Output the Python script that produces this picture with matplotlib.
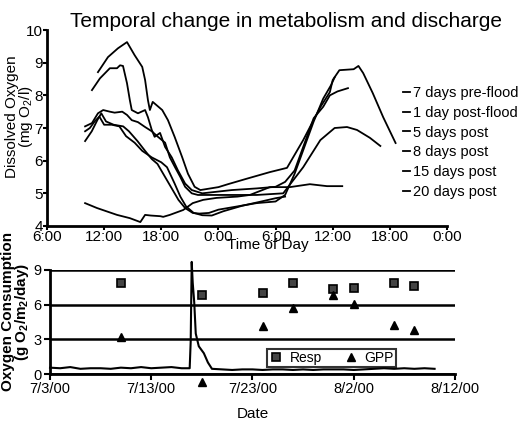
import numpy as np
import pandas as pd
import matplotlib
matplotlib.use('Agg')
import matplotlib.pyplot as plt

plt.rcParams['font.family'] = ['Liberation Sans', 'DejaVu Sans']
plt.rcParams['mathtext.fontset'] = 'custom'
plt.rcParams['mathtext.rm'] = 'Liberation Sans'
plt.rcParams['mathtext.bf'] = 'Liberation Sans:bold'

# ---- dados: oxigenio dissolvido (hora desde 0:00 do dia 1, mg/l)
hA = [11.35, 12.4, 13.45, 14.4, 15.2, 16.0, 16.3, 16.6, 16.8, 17.1, 18.1, 18.7, 19.4,
      20.2, 20.8, 21.5, 22.1, 24.0, 25.0, 27.0, 29.4, 31.2, 32.9, 34.7, 35.7, 36.0,
      36.7, 38.2, 38.7, 39.2, 40.2, 41.3, 42.6]
vA = [8.71, 9.17, 9.44, 9.63, 9.23, 8.87, 8.47, 7.85, 7.55, 7.8, 7.55, 7.24, 6.73,
      6.1, 5.6, 5.2, 5.1, 5.19, 5.28, 5.45, 5.65, 5.78, 6.63, 7.64, 8.1, 8.47,
      8.77, 8.8, 8.9, 8.68, 8.07, 7.33, 6.54]

hB = [10.72, 11.56, 12.6, 13.35, 13.67, 13.98, 14.4, 14.7, 14.9, 15.55, 16.3, 16.6,
      17.0, 17.3, 17.87, 18.4, 19.1, 19.75, 20.5, 21.2, 22.3, 25.4, 28.0, 30.0, 31.0,
      32.0, 33.0, 34.0, 35.0, 35.7, 36.5, 37.6]
vB = [8.16, 8.52, 8.83, 8.83, 8.92, 8.9, 8.37, 7.85, 7.55, 7.45, 7.55, 7.33,
      6.94, 6.73, 6.85, 6.42, 6.1, 5.7, 5.3, 5.1, 5.0, 5.1, 5.15, 5.2, 5.35,
      5.7, 6.5, 7.3, 7.65, 8.0, 8.12, 8.22]

hC = [10.0, 10.72, 11.35, 11.9, 12.6, 13.1, 13.9, 14.4, 14.9, 15.55, 16.3, 17.0,
      17.65, 18.4, 18.9, 19.44, 20.0, 20.5, 21.2, 21.85, 25.0, 28.0, 30.8, 32.9,
      34.7, 36.2, 37.5, 38.55, 39.9, 41.0]
vC = [7.05, 7.15, 7.45, 7.55, 7.5, 7.47, 7.5, 7.4, 7.24, 7.18, 7.03, 6.9,
      6.73, 6.55, 6.1, 5.8, 5.5, 5.2, 5.0, 4.95, 4.95, 4.95, 5.0, 5.8,
      6.63, 7.0, 7.03, 6.94, 6.7, 6.45]

hD = [10.0, 10.7, 11.3, 11.7, 12.2, 13.0, 14.0, 14.6, 15.5, 16.3, 17.0, 17.6, 18.4,
      19.2, 19.8, 20.5, 21.3, 22.0, 23.0, 24.0, 26.0, 28.0, 30.0, 31.0, 32.0, 33.0,
      34.0, 35.0, 35.8, 36.2]
vD = [6.6, 6.9, 7.25, 7.45, 7.2, 7.1, 7.05, 6.9, 6.6, 6.3, 6.05, 5.9, 5.5,
      5.1, 4.8, 4.55, 4.4, 4.38, 4.4, 4.5, 4.6, 4.7, 4.75, 4.95, 5.6, 6.4,
      7.2, 7.9, 8.3, 8.55]

hF = [10.0, 10.5, 11.0, 11.5, 12.0, 12.8, 13.6, 14.3, 15.2, 16.0, 17.0, 18.0, 18.6,
      19.4, 20.0, 20.6, 21.4, 22.3, 23.3, 24.5, 26.5, 28.5, 30.0, 31.0]
vF = [6.9, 7.0, 7.2, 7.35, 7.1, 7.1, 7.05, 6.75, 6.55, 6.3, 6.1, 5.95, 5.8,
      5.3, 4.9, 4.6, 4.4, 4.33, 4.32, 4.45, 4.62, 4.75, 4.85, 4.9]

hE = [10.0, 11.25, 13.35, 14.7, 15.8, 16.3, 16.9, 17.9, 18.2, 18.9, 20.3, 21.3, 22.4,
      23.8, 26.0, 27.3, 29.4, 31.5, 33.6, 35.4, 37.0]
vE = [4.70, 4.55, 4.34, 4.24, 4.12, 4.34, 4.32, 4.3, 4.28, 4.34, 4.49, 4.7, 4.8,
      4.86, 4.9, 4.95, 5.19, 5.19, 5.28, 5.22, 5.22]

rotulos = ['7 days pre-flood', '1 day post-flood', '5 days post',
           '8 days post', '15 days post', '20 days post']
curvas = [(hA, vA), (hB, vB), (hC, vC), (hD, vD), (hF, vF), (hE, vE)]

horas_ticks = [6, 12, 18, 24, 30, 36, 42, 48]
horas_rot = ['6:00', '12:00', '18:00', '0:00', '6:00', '12:00', '18:00', '0:00']

# ---- dados: descarga e metabolismo
inicio = pd.Timestamp('2000-07-03')
q_dias = [0, 1, 2, 3, 4, 5, 6, 7, 8, 9, 10, 11, 12, 13, 13.8, 13.9, 14.0, 14.1,
          14.25, 14.4, 14.7, 15.2, 15.6, 16, 17, 18, 19, 20, 21, 22, 23, 24, 25,
          26, 27, 28, 29, 30, 31, 32, 33, 34, 35, 36, 37, 38]
q_val = [0.55, 0.5, 0.6, 0.45, 0.5, 0.5, 0.45, 0.55, 0.5, 0.6, 0.5, 0.55, 0.6, 0.5,
         0.5, 2.8, 9.7, 7.9, 6.2, 3.5, 2.4, 1.8, 1.0, 0.45, 0.4, 0.35, 0.4, 0.4,
         0.35, 0.4, 0.4, 0.35, 0.4, 0.35, 0.4, 0.4, 0.4, 0.35, 0.4, 0.45, 0.5,
         0.45, 0.5, 0.45, 0.5, 0.45]
met_datas = ['2000-07-10', '2000-07-18', '2000-07-24', '2000-07-27',
             '2000-07-31', '2000-08-02', '2000-08-06', '2000-08-08']
resp = [7.85, 6.8, 7.05, 7.85, 7.35, 7.43, 7.87, 7.63]
gpp = [3.2, -0.65, 4.15, 5.7, 6.8, 6.05, 4.2, 3.8]

datas_ticks = ['2000-07-03', '2000-07-13', '2000-07-23', '2000-08-02', '2000-08-12']
datas_rot = ['7/3/00', '7/13/00', '7/23/00', '8/2/00', '8/12/00']

fig = plt.figure(figsize=(5.21, 4.21), dpi=100)

# ---- grafico de cima
ax1 = fig.add_axes([0.0902, 0.4632, 0.7678, 0.4655])
for (h, v), rot in zip(curvas, rotulos):
    ax1.plot(h, v, color='black', lw=1.3, label=rot)
ax1.set_xlim(6, 48)
ax1.set_ylim(4, 10)
ax1.set_xticks(horas_ticks)
ax1.set_xticklabels(horas_rot, fontsize=11)
for t in ax1.get_xticklabels()[-2:]:
    t.set_fontsize(8.5)
ax1.set_yticks([4, 5, 6, 7, 8, 9, 10])
ax1.tick_params(axis='both', labelsize=11, length=3, width=1.5, pad=0)
for s in ['top', 'right']:
    ax1.spines[s].set_visible(False)
for s in ['left', 'bottom']:
    ax1.spines[s].set_linewidth(2)
ax1.set_ylabel('Dissolved Oxygen\n(mg O$_2$/l)', fontsize=11, linespacing=0.85)
ax1.yaxis.set_label_coords(-0.03, 0.56)
ax1.set_xlabel('Time of Day', fontsize=11, va='top')
ax1.xaxis.set_label_coords(0.5525, -0.06)
ax1.legend(loc='upper left', bbox_to_anchor=(0.89, 0.715), frameon=False,
           fontsize=10.5, handlelength=0.5, handletextpad=0.2, labelspacing=0.4,
           borderaxespad=0, borderpad=0)

fig.text(0.549, 1 - 27 / 421, 'Temporal change in metabolism and discharge',
         ha='center', va='baseline', fontsize=15)

# ---- grafico de baixo
ax2 = fig.add_axes([0.096, 0.1116, 0.777, 0.2471])
q_t = inicio + pd.to_timedelta(q_dias, unit='D')
ax2.plot(q_t, q_val, color='black', lw=1.5, clip_on=False)
mt = pd.to_datetime(met_datas)
ax2.plot(mt, resp, ls='none', marker='s', ms=5.5, mfc='#444444', mec='black',
         mew=1.2, label='Resp', clip_on=False)
ax2.plot(mt, gpp, ls='none', marker='^', ms=6, color='black', label='GPP',
         clip_on=False)
ax2.set_xlim(pd.Timestamp('2000-07-03'), pd.Timestamp('2000-08-12'))
ax2.set_ylim(0, 9)
ax2.set_yticks([0, 3, 6, 9])
ax2.set_xticks(pd.to_datetime(datas_ticks))
ax2.set_xticklabels(datas_rot)
ax2.yaxis.grid(True, color='black', lw=1.8)
ax2.set_axisbelow(True)
ax2.tick_params(axis='both', labelsize=10.5, length=4, width=1.5, pad=2)
for s in ['top', 'right']:
    ax2.spines[s].set_visible(False)
for s in ['left', 'bottom']:
    ax2.spines[s].set_linewidth(2)
ax2.set_ylabel('Oxygen Consumption\n(g O$_\\mathbf{2}$/m$_\\mathbf{2}$/day)', fontsize=11,
               fontweight='bold', linespacing=0.85)
ax2.yaxis.set_label_coords(-0.046, 0.6)
ax2.set_xlabel('Date', fontsize=11, va='top')
ax2.xaxis.set_label_coords(0.5, -0.315)
leg = ax2.legend(loc='center', bbox_to_anchor=(0.695, 0.155), ncol=2, fontsize=10,
                 fancybox=False, edgecolor='black', facecolor='none', borderpad=0.15,
                 handletextpad=0.5, columnspacing=1.6, handlelength=1.0)
leg.get_frame().set_linewidth(1.5)

fig.savefig('out.png', dpi=100)
